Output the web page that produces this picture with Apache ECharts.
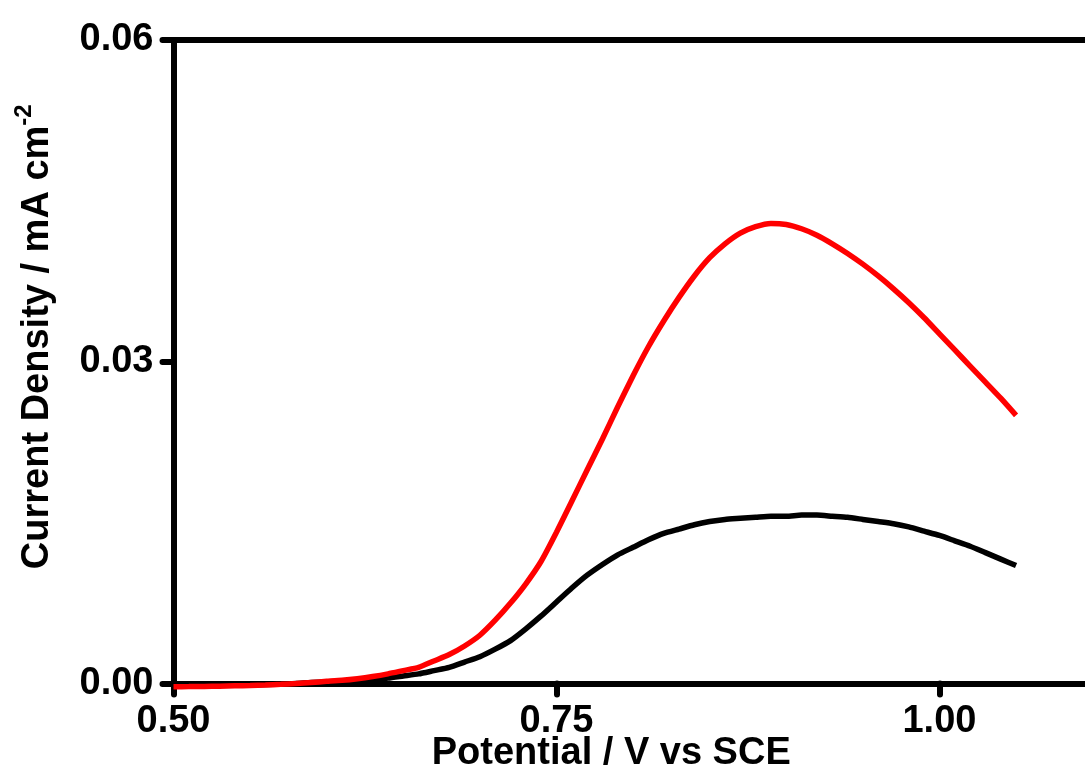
<!DOCTYPE html>
<html>
<head>
<meta charset="utf-8">
<script src="https://cdn.jsdelivr.net/npm/echarts@6/dist/echarts.min.js"></script>
<style>html,body{margin:0;padding:0;background:#fff}#c{width:1085px;height:783px}</style>
</head>
<body>
<div id="c"></div>
<script>
var potential = [0.50,0.51,0.52,0.53,0.54,0.55,0.56,0.57,0.58,0.59,0.60,0.61,0.62,0.63,0.64,0.65,0.66,0.67,0.68,0.69,0.70,0.71,0.72,0.73,0.74,0.75,0.76,0.77,0.78,0.79,0.80,0.81,0.82,0.83,0.84,0.85,0.86,0.87,0.88,0.89,0.90,0.91,0.92,0.93,0.94,0.95,0.96,0.97,0.98,0.99,1.00,1.01,1.02,1.03,1.04,1.05];
var redCurrent = [-0.0003,-0.00029,-0.00027,-0.00025,-0.00022,-0.00019,-0.00015,-0.00008,0.0000,0.0001,0.0002,0.0003,0.00045,0.00065,0.0009,0.0012,0.0015,0.0021,0.0027,0.0035,0.0045,0.0059,0.0075,0.0093,0.0114,0.0141,0.0170,0.0199,0.0228,0.0258,0.0287,0.0314,0.0338,0.0360,0.0380,0.0397,0.0410,0.0420,0.0426,0.0429,0.0428,0.0424,0.0418,0.0410,0.0401,0.0391,0.0380,0.0368,0.0355,0.0341,0.0326,0.0311,0.0296,0.0281,0.0266,0.0250];
var blackCurrent = [-0.0002,-0.0002,-0.00018,-0.00016,-0.00014,-0.00012,-0.0001,-0.00005,0.0000,0.0001,0.00015,0.0002,0.0003,0.0004,0.0005,0.0007,0.0009,0.0012,0.0015,0.0020,0.0025,0.0032,0.0040,0.0051,0.0063,0.0076,0.0089,0.0101,0.0111,0.0120,0.0127,0.0134,0.0140,0.0144,0.0148,0.0151,0.0153,0.0154,0.0155,0.0156,0.0156,0.0157,0.0157,0.0156,0.0155,0.0153,0.0151,0.0149,0.0146,0.0142,0.0138,0.0133,0.0128,0.0122,0.0116,0.0110];
var xTicks = [0.50, 0.75, 1.00];
var yTicks = [0.00, 0.03, 0.06];

function pairs(xs, ys){ return xs.map(function(x,i){ return [x, ys[i]]; }); }
function isTick(list, v){ return list.some(function(t){ return Math.abs(t - v) < 1e-9; }); }

var font = 'Liberation Sans, Arial, sans-serif';
var chart = echarts.init(document.getElementById('c'));
chart.setOption({
  animation: false,
  backgroundColor: '#fff',
  grid: { left: 173.5, top: 40, right: 0, bottom: 99.5, outerBoundsMode: 'none' },
  xAxis: [{
    type: 'value', min: 0.5, max: 1.095, interval: 0.25,
    name: 'Potential / V vs SCE', nameLocation: 'middle', nameGap: 51, nameMoveOverlap: false,
    nameTextStyle: { fontFamily: font, fontWeight: 'bold', fontSize: 38, color: '#000', padding: [0, 36, 0, 0] },
    axisLine: { show: true, lineStyle: { color: '#000', width: 6 } },
    axisTick: { show: true, inside: false, length: 11, lineStyle: { color: '#000', width: 6, cap: 'round' } },
    axisLabel: { showMaxLabel: false, margin: 19, fontFamily: font, fontWeight: 'bold', fontSize: 38, color: '#000',
      formatter: function(v){ return isTick(xTicks, v) ? v.toFixed(2) : ''; } },
    splitLine: { show: false }
  }, {
    type: 'value', position: 'top', min: 0.5, max: 1.095,
    axisLine: { show: true, onZero: false, lineStyle: { color: '#000', width: 6 } },
    axisTick: { show: false }, axisLabel: { show: false }, splitLine: { show: false }
  }],
  yAxis: {
    type: 'value', min: 0, max: 0.06, interval: 0.03,
    name: 'Current Density / mA cm{sup|-2}', nameLocation: 'middle', nameGap: 111, nameRotate: 90, nameMoveOverlap: false,
    nameTextStyle: { fontFamily: font, fontWeight: 'bold', fontSize: 38, lineHeight: 50, color: '#000', padding: [0, 0, 0, 50],
      rich: { sup: { fontFamily: font, fontWeight: 'bold', fontSize: 24, color: '#000', verticalAlign: 'top' } } },
    axisLine: { show: true, lineStyle: { color: '#000', width: 6 } },
    axisTick: { show: true, inside: false, length: 11, lineStyle: { color: '#000', width: 6, cap: 'round' } },
    axisLabel: { margin: 20, fontFamily: font, fontWeight: 'bold', fontSize: 38, color: '#000',
      formatter: function(v){ return isTick(yTicks, v) ? v.toFixed(2) : ''; } },
    splitLine: { show: false }
  },
  series: [
    { type: 'line', name: 'black', data: pairs(potential, blackCurrent), smooth: 0.2, symbol: 'none', clip: false,
      lineStyle: { color: '#000', width: 5.5 }, z: 3 },
    { type: 'line', name: 'red', data: pairs(potential, redCurrent), smooth: 0.2, symbol: 'none', clip: false,
      lineStyle: { color: '#ff0000', width: 5.5 }, z: 4 }
  ]
});
</script>
</body>
</html>
